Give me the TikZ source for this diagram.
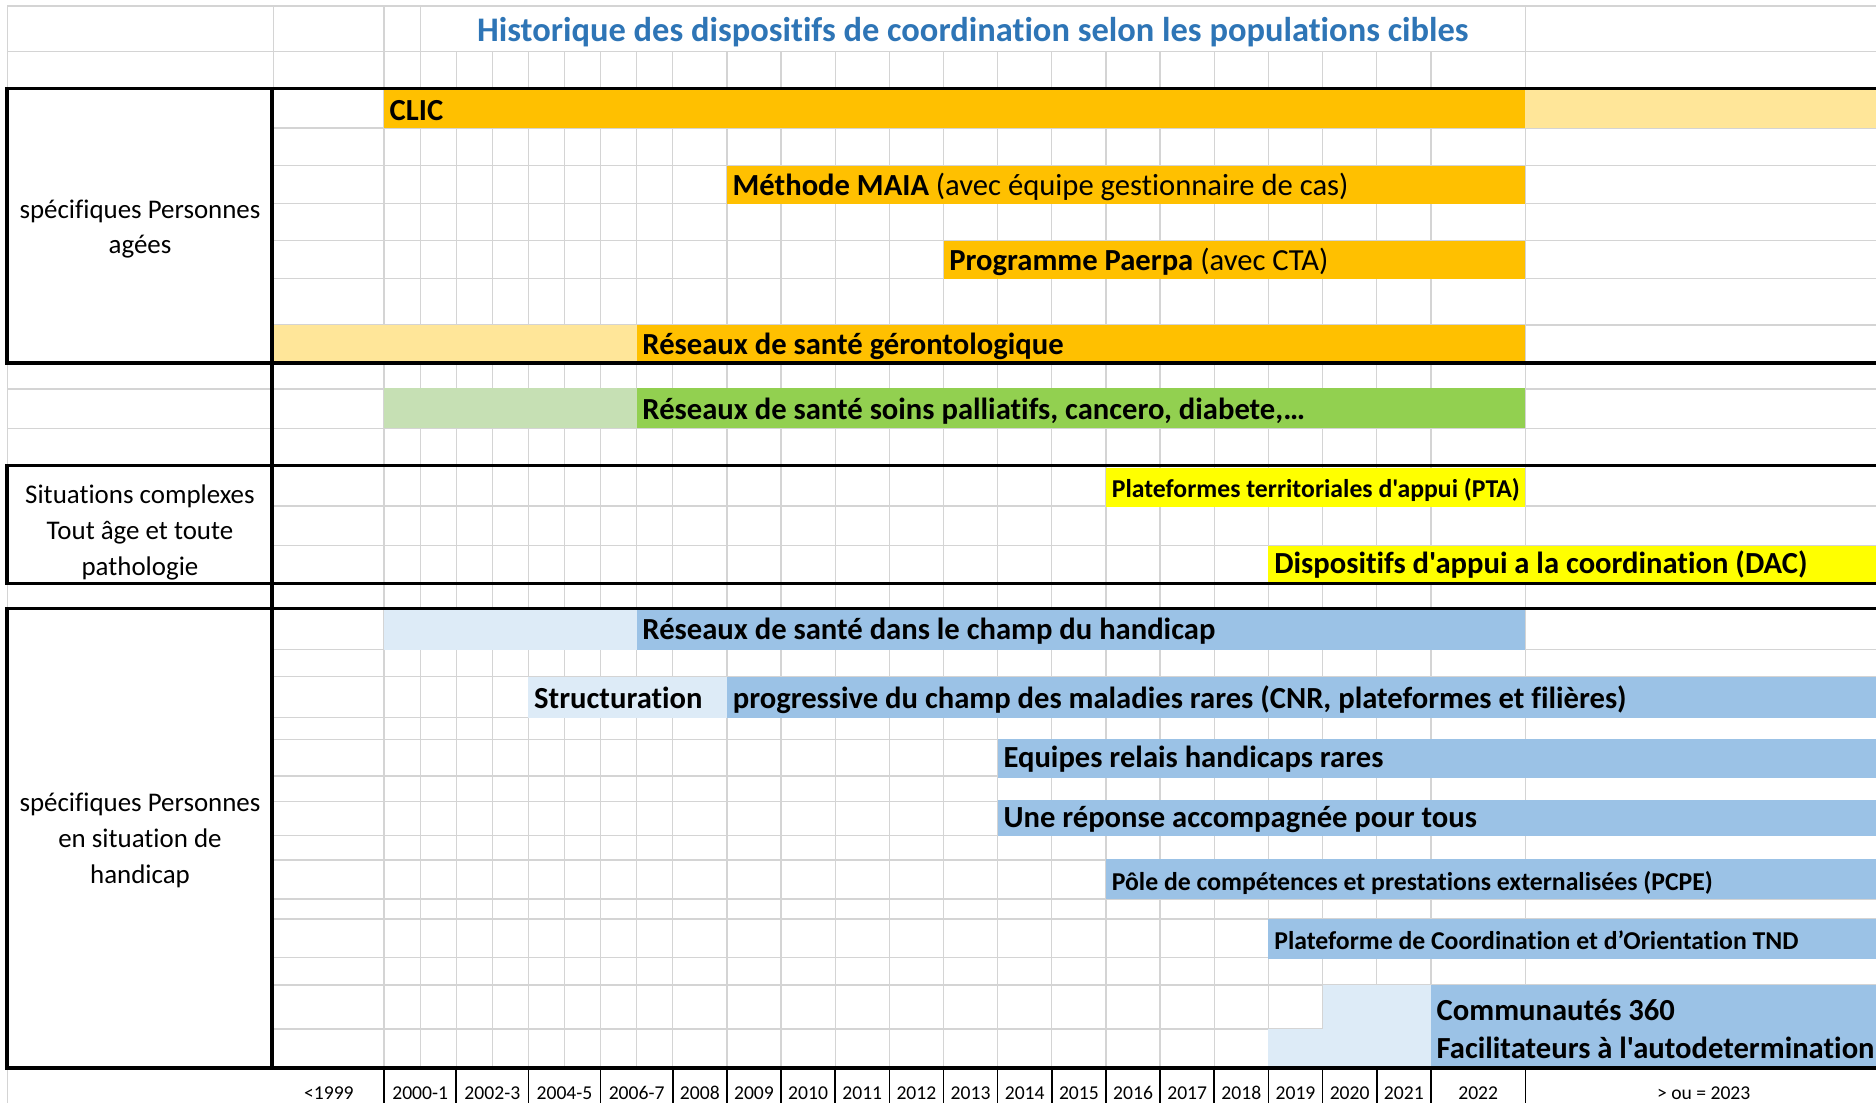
\documentclass[tikz,border=0pt]{standalone}
\usepackage{fontspec}
\setmainfont{Carlito}[Ligatures={TeXOff,NoCommon}]
\definecolor{gridc}{HTML}{D4D4D4}
\definecolor{orangeD}{HTML}{FFC000}
\definecolor{orangeL}{HTML}{FFE699}
\definecolor{greenD}{HTML}{92D050}
\definecolor{greenL}{HTML}{C6E0B4}
\definecolor{yel}{HTML}{FFFF00}
\definecolor{blueD}{HTML}{9BC2E6}
\definecolor{blueL}{HTML}{DDEBF7}
\definecolor{titleblue}{HTML}{2E75B6}
\tikzset{
  gridline/.style={draw=gridc, line width=1.1pt},
  thickline/.style={draw=black, line width=3pt, line cap=rect},
  sepline/.style={draw=black, line width=1.3pt},
  bartxt/.style={anchor=base west, inner sep=0pt, font=\fontsize{25.6}{30}\selectfont\bfseries},
  bartxtsmall/.style={anchor=base west, inner sep=0pt, font=\fontsize{21.5}{25}\selectfont\bfseries},
  labtxt/.style={anchor=base, inner sep=0pt, font=\fontsize{22.5}{27}\selectfont},
  yearlab/.style={anchor=base, inner sep=0pt, font=\fontsize{16.4}{19}\selectfont},
}
\begin{document}
\begin{tikzpicture}[x=1pt,y=-1pt]
\useasboundingbox (0,0) rectangle (1568,922);
\clip (0,0) rectangle (1568,922);
\fill[white] (0,0) rectangle (1568,922);
% ---- grid ----
\foreach \y in {107.0,138.5,170.3,201.2,232.6,271.6,423,456.1,542.7,565.5,599.6,618,648.6,669.8,698.5,718.8,751.4,768.2,800.5,823.3,860}
  \draw[gridline] (228,\y) -- (1568,\y);
\foreach \y in {5,43.2,325,358}
  \draw[gridline] (6,\y) -- (1568,\y);
\draw[gridline] (6,5) -- (6,922);
\draw[gridline] (228.7,5) -- (228.7,74);
\foreach \x in {321,351.2,1275}
  \draw[gridline] (\x,5) -- (\x,892.4);
\foreach \x in {381.3,411.5,441.6,471.8,501.9,532.1,562.3,607.56,652.82,698.08,743.34,788.6,833.86,879.12,924.38,969.64,1014.9,1060.16,1105.42,1150.68,1195.94}
  \draw[gridline] (\x,43.2) -- (\x,892.4);
% ---- bars ----
\fill[orangeD] (321,75.2) rectangle (1275,107.3);
\fill[orangeL] (1275,75.2) rectangle (1568,107.3);
\fill[orangeD] (607.56,138.5) rectangle (1275,170.5);
\fill[orangeD] (788.6,201.2) rectangle (1275,233.3);
\fill[orangeL] (228.7,271.6) rectangle (532.1,302.3);
\fill[orangeD] (532.1,271.6) rectangle (1275,302.3);
\fill[greenL] (321,324.6) rectangle (532.1,358);
\fill[greenD] (532.1,324.6) rectangle (1275,358);
\fill[yel] (924.38,391.5) rectangle (1275,423.5);
\fill[yel] (1060.16,456.1) rectangle (1568,486.5);
\fill[blueL] (321,510) rectangle (532.1,543.2);
\fill[blueD] (532.1,510) rectangle (1275,543.2);
\fill[blueL] (441.6,565.5) rectangle (607.56,600);
\fill[blueD] (607.56,565.5) rectangle (1568,600);
\fill[blueD] (833.86,618) rectangle (1568,650);
\fill[blueD] (833.86,668.5) rectangle (1568,699);
\fill[blueD] (924.38,718) rectangle (1568,751.5);
\fill[blueD] (1060.16,768) rectangle (1568,801.4);
\fill[blueL] (1105.42,823.3) rectangle (1195.94,892.4);
\fill[blueL] (1060.16,860) rectangle (1105.42,892.4);
\fill[blueD] (1195.94,823.3) rectangle (1568,892.4);
% ---- thick borders ----
\foreach \y in {73.8,303.5,389.2,487.6,508.5,892.4}
  \draw[thickline] (6,\y) -- (1570,\y);
\draw[thickline] (6,73.8) -- (6,303.5);
\draw[thickline] (6,389.2) -- (6,487.6);
\draw[thickline] (6,508.5) -- (6,892.4);
\draw[thickline] (227.5,73.8) -- (227.5,892.4);
% ---- bottom separators ----
\foreach \x in {321,381.3,441.6,501.9,562.3,607.56,652.82,698.08,743.34,788.6,833.86,879.12,924.38,969.64,1014.9,1060.16,1105.42,1150.68,1195.94,1275}
  \draw[sepline] (\x,893.5) -- (\x,922);
% ---- title ----
\node[anchor=base, inner sep=0pt, text=titleblue, font=\fontsize{28.8}{34}\selectfont\bfseries] (title) at (813,34.8) {Historique des dispositifs de coordination selon les populations cibles};
% ---- row labels ----
\node[labtxt] (pa1) at (117,182.5) {spécifiques Personnes};
\node[labtxt] (pa2) at (117,211.7) {agées};
\node[labtxt] (sc1) at (117,420.7) {Situations complexes};
\node[labtxt] (sc2) at (117,451.0) {Tout âge et toute};
\node[labtxt] (sc3) at (117,480.6) {pathologie};
\node[labtxt] (ph1) at (117,678.4) {spécifiques Personnes};
\node[labtxt] (ph2) at (117,708.0) {en situation de};
\node[labtxt] (ph3) at (117,738.3) {handicap};
% ---- bar texts ----
\node[bartxt] (clic) at (325.5,100.3) {CLIC};
\node[bartxt] (maia) at (612.2,163.4) {Méthode MAIA \mdseries(avec équipe gestionnaire de cas)};
\node[bartxt] (paerpa) at (793.3,225.8) {Programme Paerpa \mdseries(avec CTA)};
\node[bartxt] (geronto) at (536.8,296.2) {Réseaux de santé gérontologique};
\node[bartxt] (pallia) at (536.8,351) {Réseaux de santé soins palliatifs, cancero, diabete,…};
\node[bartxtsmall] (pta) at (929.1,415.7) {Plateformes territoriales d'appui (PTA)};
\node[bartxt] (dac) at (1064.9,479.5) {Dispositifs d'appui a la coordination (DAC)};
\node[bartxt] (rhand) at (536.8,534.8) {Réseaux de santé dans le champ du handicap};
\node[bartxt] (struct) at (446.3,592.2) {Structuration};
\node[bartxt] (progr) at (612.3,592.2) {progressive du champ des maladies rares (CNR, plateformes et filières)};
\node[bartxt] (equip) at (838.6,641.3) {Equipes relais handicaps rares};
\node[bartxt] (rapt) at (838.6,691.5) {Une réponse accompagnée pour tous};
\node[bartxtsmall] (pcpe) at (929.1,744.5) {Pôle de compétences et prestations externalisées (PCPE)};
\node[bartxtsmall] (pco) at (1064.9,793.5) {Plateforme de Coordination et d’Orientation TND};
\node[bartxt] (c360) at (1200.6,852.8) {Communautés 360};
\node[bartxt] (facil) at (1200.6,884.8) {Facilitateurs à l'autodetermination};
% ---- year labels ----
\node[yearlab] (y1999) at (274.9,919) {<1999};
\node[yearlab] (y2000) at (351.2,919) {2000-1};
\node[yearlab] (y2002) at (411.5,919) {2002-3};
\node[yearlab] (y2004) at (471.8,919) {2004-5};
\node[yearlab] (y2006) at (532.1,919) {2006-7};
\foreach \yr [count=\k] in {2008,2009,2010,2011,2012,2013,2014,2015,2016,2017,2018,2019,2020,2021} {
  \pgfmathsetmacro{\cx}{562.3+(\k-0.5)*45.26}
  \node[yearlab] (yr\yr) at (\cx,919) {\yr};
}
\node[yearlab] (y2022) at (1235.5,919) {2022};
\node[yearlab] (y2023) at (1424,919) {> ou = 2023};
\end{tikzpicture}
\end{document}
